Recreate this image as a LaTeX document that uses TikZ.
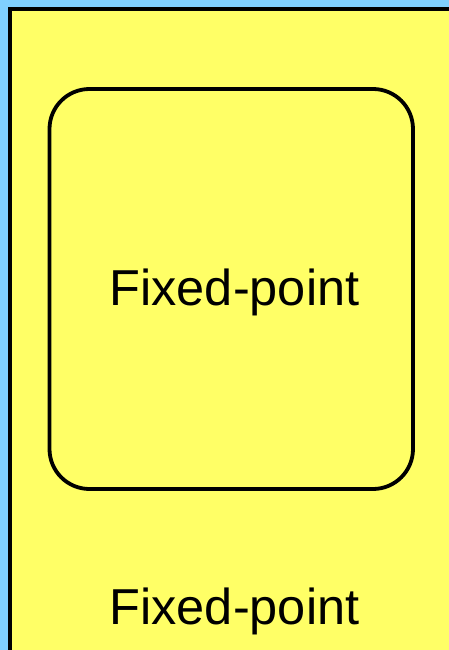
\documentclass[tikz,border=0pt]{standalone}
\usepackage{fontspec}
\setmainfont{Liberation Sans}
\usepackage{tikz}
\usetikzlibrary{positioning}
\definecolor{SkyBlue}{RGB}{128,208,255}
\definecolor{PadYellow}{RGB}{255,255,102}
\tikzset{
  panel/.style={draw=black,fill=PadYellow,line width=4.5pt},
  stage/.style={draw=black,line width=3.8pt,rounded corners=40pt,
    minimum width=363.5pt,minimum height=400pt,inner sep=0pt},
  tag/.style={font=\fontsize{50.5}{60}\selectfont,inner sep=0pt,anchor=base},
}

\begin{document}
\begin{tikzpicture}[x=1pt,y=-1pt]
\useasboundingbox (0,0) rectangle (449,650);
\fill[SkyBlue] (0,0) rectangle (449,650);
\begin{scope}
\clip (0,0) rectangle (449,650);
\draw[panel] (10,9) rectangle (470,680);
\end{scope}
\node[stage] (box) at (231.25,289) {};
\node[tag] (inner) at (234.5,305) {Fixed-point};
\node[tag] (outer) at (234.5,624) {Fixed-point};
\end{tikzpicture}
\end{document}
